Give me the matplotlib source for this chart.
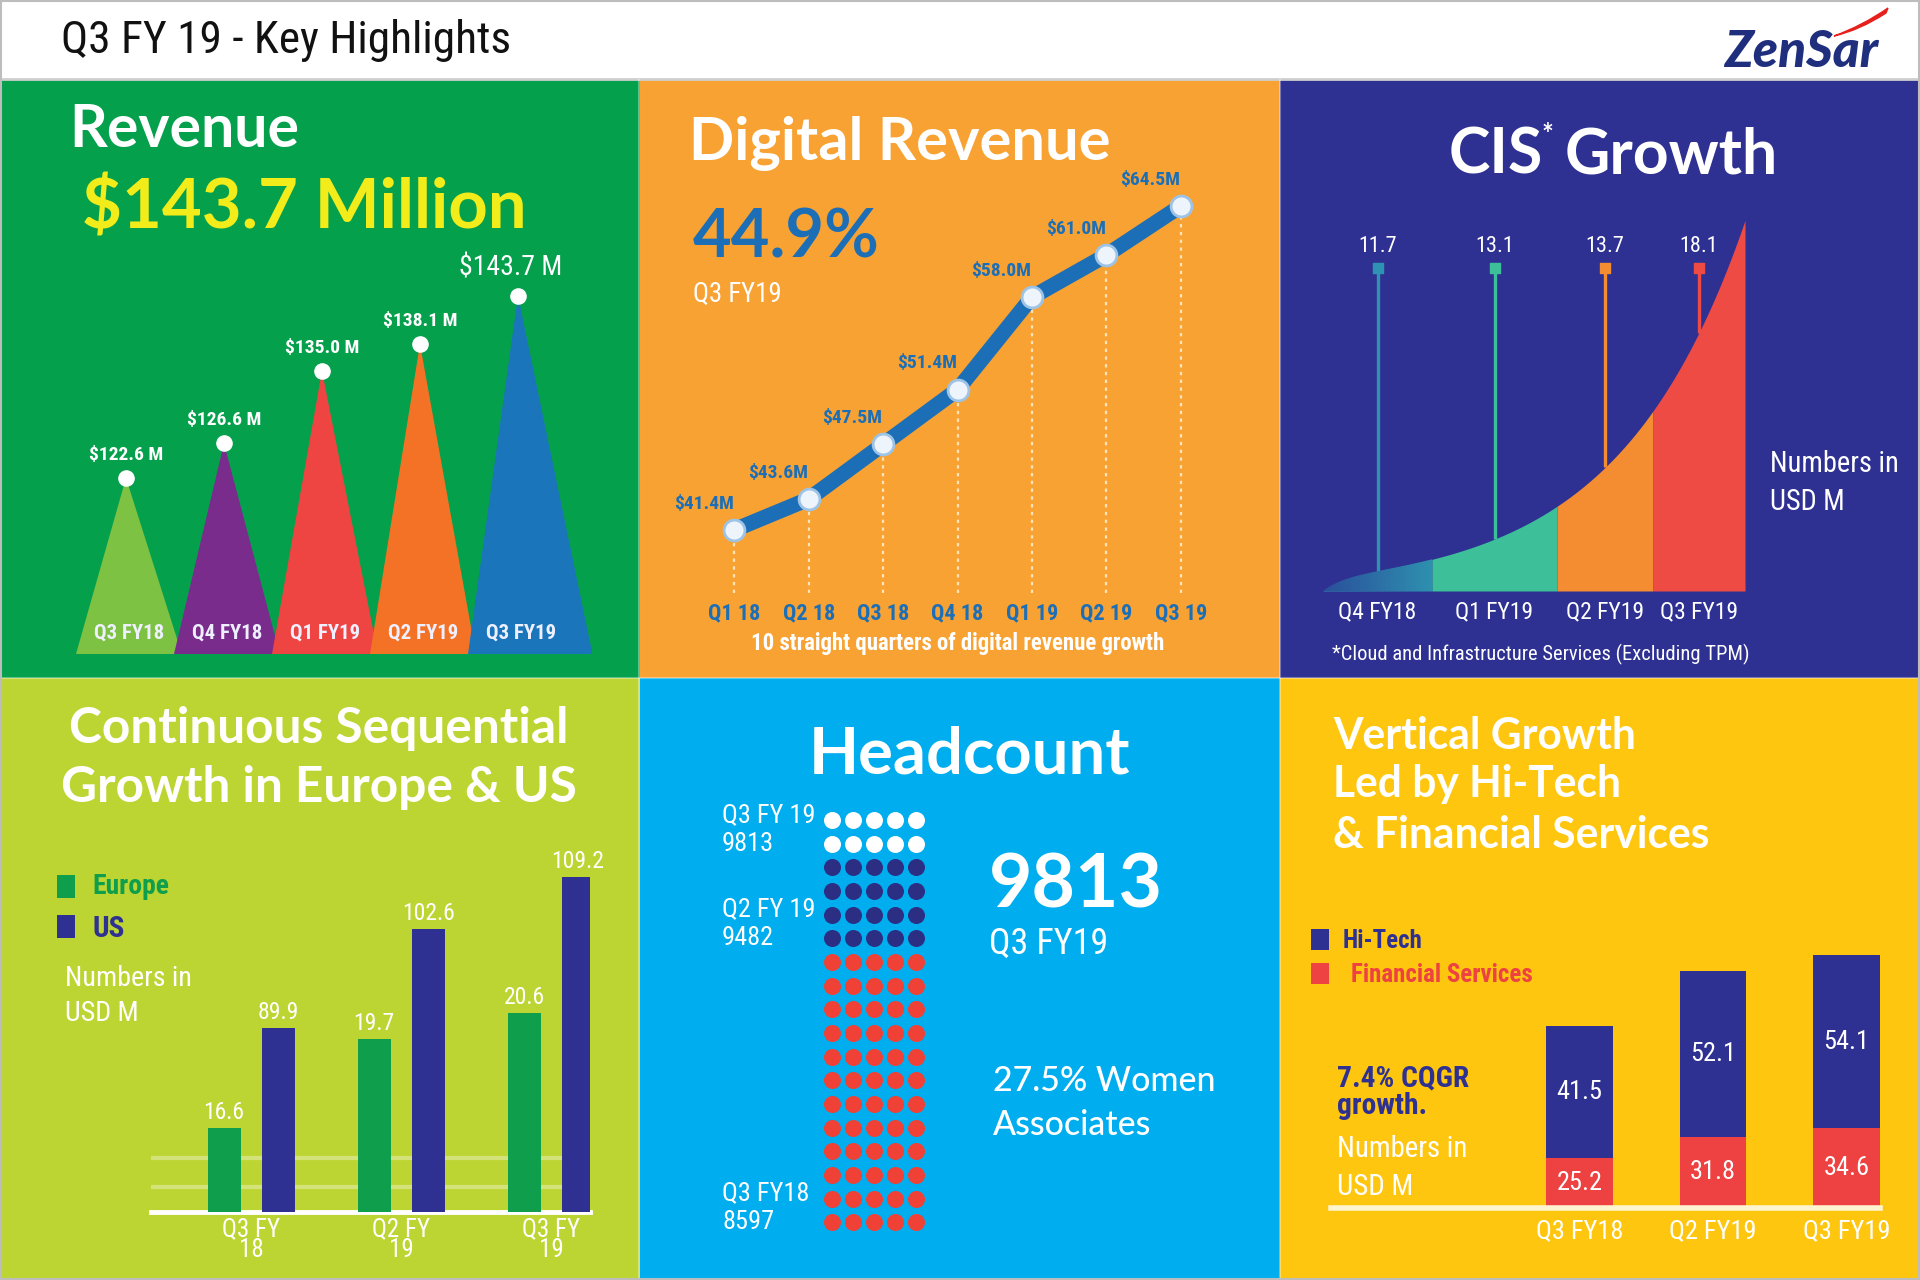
import numpy as np
import matplotlib
matplotlib.use("Agg")
import matplotlib.pyplot as plt
from matplotlib import font_manager as fm
from matplotlib.patches import Rectangle, Polygon, PathPatch
from matplotlib.path import Path
from matplotlib.colors import LinearSegmentedColormap

# ------------------------------------------------------------------ data
rev_quarters = ["Q3 FY18", "Q4 FY18", "Q1 FY19", "Q2 FY19", "Q3 FY19"]
rev_values = [122.6, 126.6, 135.0, 138.1, 143.7]

dig_quarters = ["Q1 18", "Q2 18", "Q3 18", "Q4 18", "Q1 19", "Q2 19", "Q3 19"]
dig_values = [41.4, 43.6, 47.5, 51.4, 58.0, 61.0, 64.5]

cis_quarters = ["Q4 FY18", "Q1 FY19", "Q2 FY19", "Q3 FY19"]
cis_values = [11.7, 13.1, 13.7, 18.1]

geo_quarters = ["Q3 FY\n18", "Q2 FY\n19", "Q3 FY\n19"]
europe_values = [16.6, 19.7, 20.6]
us_values = [89.9, 102.6, 109.2]

hc_labels = ["Q3 FY18", "Q2 FY 19", "Q3 FY 19"]
hc_values = [8597, 9482, 9813]
hc_dot_rows = [12, 4, 2]          # rows of dots (5 per row) for each step

vert_quarters = ["Q3 FY18", "Q2 FY19", "Q3 FY19"]
fin_values = [25.2, 31.8, 34.6]
hitech_values = [41.5, 52.1, 54.1]

# ------------------------------------------------------------------ style
GREEN_BG = "#05A04C"
ORANGE_BG = "#F8A233"
NAVY_BG = "#2E3192"
LIME_BG = "#BDD532"
SKY_BG = "#00ADEE"
YELLOW_BG = "#FEC60F"
NAVY = "#2E3192"
RED = "#EE4142"
DBLUE = "#1C6FB7"
YELLOW = "#F3EC1B"
rev_colors = ["#7DC243", "#7A2C8D", "#EE4543", "#F47225", "#1B75BB"]
cis_colors = ["#2E90AF", "#3DBF99", "#F48C32", "#EE4B45"]
cis_stem_colors = ["#2E93B2", "#3DBF99", "#F48C32", "#EE4B45"]
cis_bounds = [0, 109, 234, 330, 422]   # horizontal extent of each CIS band
hc_colors = ["#EF4136", "#2B2E83", "#FFFFFF"]

_fonts = fm.fontManager.ttflist
_names = {f.name for f in _fonts}
TF = "Lato" if "Lato" in _names else "DejaVu Sans"
CF, CST = None, "normal"
for cand in ["Roboto Condensed", "Open Sans Condensed", "Liberation Sans Narrow",
             "DejaVu Sans Condensed", "Noto Sans Condensed", "Arial Narrow"]:
    if cand in _names:
        CF = cand
        break
if CF is None:
    if any(f.name == "DejaVu Sans" and str(f.stretch) in ("condensed", "semi-condensed") for f in _fonts):
        CF, CST = "DejaVu Sans", "condensed"
    elif any(f.name == "Noto Sans" and str(f.stretch) == "condensed" for f in _fonts):
        CF, CST = "Noto Sans", "condensed"
    else:
        CF = TF
TFONT = dict(family=TF)
CFONT = dict(family=CF, fontstretch=CST)

W, H = 1920, 1280
fig = plt.figure(figsize=(W / 100, H / 100), dpi=100)
bg = fig.add_axes([0, 0, 1, 1])
bg.set_xlim(0, W)
bg.set_ylim(H, 0)
bg.axis("off")
renderer = fig.canvas.get_renderer()


def txt(x, y, s, cap, width=None, color="white", font=None, weight="normal",
        ha="left", va="baseline", **kw):
    f = font or TFONT
    t = bg.text(x, y, s, fontsize=cap, color=color, ha=ha, va=va,
                fontweight=weight, **f, **kw)
    if width:
        w0 = t.get_window_extent(renderer).width
        size_w = cap * width / w0
        t.set_fontsize(min(0.5 * (size_w + cap), 1.08 * size_w))
    return t


def panel_axes(x0, y0, x1, y1):
    ax = fig.add_axes([x0 / W, 1 - y1 / H, (x1 - x0) / W, (y1 - y0) / H])
    ax.set_facecolor("none")
    for s in ax.spines.values():
        s.set_visible(False)
    ax.set_xticks([])
    ax.set_yticks([])
    return ax


# ------------------------------------------------------------------ panels
for (x0, y0, x1, y1, c) in [(0, 0, 1920, 80, "white"),
                            (0, 80, 640, 678, GREEN_BG),
                            (640, 80, 1280, 678, ORANGE_BG),
                            (1280, 80, 1920, 678, NAVY_BG),
                            (0, 678, 640, 1280, LIME_BG),
                            (640, 678, 1280, 1280, SKY_BG),
                            (1280, 678, 1920, 1280, YELLOW_BG)]:
    bg.add_patch(Rectangle((x0, y0), x1 - x0, y1 - y0, color=c, lw=0, zorder=0))
bg.plot([0, 1920], [79, 79], color="#CFCFCF", lw=2, zorder=1)
bg.plot([0, 1920], [678, 678], color="white", alpha=0.35, lw=1.5, zorder=1)
bg.plot([639, 639], [80, 1280], color="white", alpha=0.35, lw=1.5, zorder=1)
bg.plot([1280, 1280], [80, 1280], color="white", alpha=0.35, lw=1.5, zorder=1)
bg.add_patch(Rectangle((1, 1), 1918, 1278, fill=False, ec="#BDBDBD", lw=1.5, zorder=5))

# header
txt(61, 53, "Q3 FY 19 - Key Highlights", 40, 417, color="#111111", font=CFONT)
txt(1724, 67, "ZenSar", 38, 150, color="#1F2F7E", weight="black", style="italic")
sw = Path([(1834, 36), (1862, 26), (1888, 8), (1886, 13), (1860, 30), (1834, 36), (1834, 36)],
          [Path.MOVETO, Path.CURVE3, Path.CURVE3, Path.LINETO, Path.CURVE3, Path.CURVE3,
           Path.CLOSEPOLY])
bg.add_patch(PathPatch(sw, fc="#E8201C", ec="#E8201C", lw=1, zorder=3))

# ------------------------------------------------------------------ revenue
txt(69, 147, "Revenue", 48, 213, weight="bold")
txt(82, 229, "$143.7 Million", 59, 412, color=YELLOW, weight="bold")

ax = panel_axes(52, 180, 592, 654)
rev_floor = 102.2
ax.set_xlim(-0.755, 4.755)
ax.set_ylim(rev_floor, 157.1)
n = len(rev_values)
for i, (v, c) in enumerate(zip(rev_values, rev_colors)):
    left, right = 0.51, (0.76 if i == n - 1 else 0.57)
    ax.add_patch(Polygon([[i - left, rev_floor], [i, v], [i + right, rev_floor]],
                         closed=True, fc=c, ec="none", zorder=2 + i))
ax.scatter(range(n), rev_values, s=120, color="white", zorder=20, clip_on=False)
for i, (q, v) in enumerate(zip(rev_quarters, rev_values)):
    last = i == n - 1
    ax.annotate(f"${v:.1f} M", (i, v), xytext=(-5 if last else 0, 10),
                textcoords="offset points", ha="center", va="bottom", color="white",
                fontsize=20 if last else 14, fontweight="normal" if last else "bold",
                **CFONT, zorder=21)
    ax.annotate(q, (i, rev_floor), xytext=(2, 8), textcoords="offset points",
                ha="center", va="bottom", color="#EEF0FF", fontsize=15,
                fontweight="bold", **CFONT, zorder=21)

# ------------------------------------------------------------------ digital revenue
txt(689, 160, "Digital Revenue", 46, 392, weight="bold")
txt(693, 258, "44.9%", 59, 173, color=DBLUE, weight="bold")
txt(693, 302, "Q3 FY19", 19, 90, font=CFONT)
txt(958, 650, "10 straight quarters of digital revenue growth", 15, 449,
    font=CFONT, weight="bold", ha="center")

ax = panel_axes(697, 170, 1218, 593)
dig_floor = 36.9
ax.set_xlim(-0.5, 6.5)
ax.set_ylim(dig_floor, 67.07)
xd = np.arange(len(dig_values))
ax.vlines(xd, dig_floor, dig_values, colors="#FFE4B8", linestyles=(0, (1.5, 2)), lw=1.6, zorder=1)
ax.plot(xd, dig_values, color=DBLUE, lw=11, solid_joinstyle="round",
        solid_capstyle="round", zorder=2)
ax.plot(xd, dig_values, ls="none", marker="o", ms=15, mfc="#EEF4FB", mec="#9DC3E6",
        mew=2, zorder=3)
for i, (q, v) in enumerate(zip(dig_quarters, dig_values)):
    ax.annotate(f"${v:.1f}M", (i, v), xytext=(-22, 19), textcoords="offset points",
                ha="center", va="center", color=DBLUE, fontsize=14, fontweight="bold", **CFONT)
    ax.annotate(q, (i, dig_floor), xytext=(0, -7), textcoords="offset points",
                ha="center", va="top", color=DBLUE, fontsize=16, fontweight="bold", **CFONT)

# ------------------------------------------------------------------ CIS growth
txt(1449, 174, "CIS", 45, None, weight="bold")
txt(1778, 174, "Growth", 45, None, weight="bold", ha="right")
txt(1542, 143, "*", 20, None, weight="bold")
t = txt(1770, 472, "Numbers in", 22, 120, font=CFONT)
txt(1770, 510, "USD M", t.get_fontsize(), None, font=CFONT)
txt(1541, 660, "*Cloud and Infrastructure Services (Excluding TPM)", 15, 412,
    font=CFONT, ha="center")

ax = panel_axes(1323, 191, 1745, 591)
ax.set_xlim(cis_bounds[0], cis_bounds[-1])
ax.set_ylim(0, 400)


def cis_curve(p):
    return 13.5 * np.exp(0.00785 * p) - 13.5 * np.exp(-0.05 * p)


stem_top = 323
cis_x = [(a + b) / 2 for a, b in zip(cis_bounds[:-1], cis_bounds[1:])]
for i, (q, v) in enumerate(zip(cis_quarters, cis_values)):
    pp = np.linspace(cis_bounds[i], cis_bounds[i + 1], 120)
    band = ax.fill_between(pp, 0, cis_curve(pp), color=cis_colors[i], lw=0, zorder=2)
    if i == 0:
        grad = np.linspace(0, 1, 64).reshape(1, -1)
        cmap = LinearSegmentedColormap.from_list("cisgrad", ["#2A4F9C", cis_colors[0]])
        im = ax.imshow(grad, cmap=cmap, extent=[cis_bounds[0], cis_bounds[1], 0, 60],
                       aspect="auto", zorder=2.5)
        im.set_clip_path(band.get_paths()[0], transform=ax.transData)
    xi = cis_x[i]
    ax.vlines(xi, cis_curve(xi), stem_top, color=cis_stem_colors[i], lw=2.4, zorder=1)
    ax.scatter([xi], [stem_top], s=60, marker="s", color=cis_stem_colors[i], zorder=3,
               clip_on=False)
    ax.annotate(f"{v:.1f}", (xi, stem_top), xytext=(0, 8), textcoords="offset points",
                ha="center", va="bottom", color="white", fontsize=16, **CFONT)
    ax.annotate(q, (xi, 0), xytext=(0, -7), textcoords="offset points",
                ha="center", va="top", color="white", fontsize=17, **CFONT)
ax.set_xlim(cis_bounds[0], cis_bounds[-1])
ax.set_ylim(0, 400)

# ------------------------------------------------------------------ Europe & US
t = txt(319, 743, "Continuous Sequential", 40, 463, weight="bold", ha="center")
txt(319, 802, "Growth in Europe & US", t.get_fontsize(), None, weight="bold", ha="center")
bg.add_patch(Rectangle((57, 875), 18, 23, color="#0F9F4C", lw=0))
bg.add_patch(Rectangle((57, 915), 18, 23, color=NAVY, lw=0))
txt(92, 894, "Europe", 21, 73, color="#0F9F4C", font=CFONT, weight="bold")
txt(92, 937, "US", 21, None, color=NAVY, font=CFONT, weight="bold")
t = txt(65, 986, "Numbers in", 21, 121, font=CFONT)
txt(65, 1021, "USD M", t.get_fontsize(), None, font=CFONT)

ax_e = panel_axes(151, 850, 590, 1212)
ax_u = panel_axes(151, 850, 590, 1212)
for a in (ax_e, ax_u):
    a.set_xlim(-0.667, 2.26)
ax_e.set_ylim(13.68, 26.27)
ax_u.set_ylim(66.37, 112.66)
ax_e.set_yticks([14.55, 15.56])
ax_e.tick_params(left=False, labelleft=False)
ax_e.yaxis.grid(True, color="white", alpha=0.35, lw=3)
ax_e.set_axisbelow(True)
ax_e.spines["bottom"].set_visible(True)
ax_e.spines["bottom"].set_color("white")
ax_e.spines["bottom"].set_linewidth(3.5)
xg = np.arange(len(europe_values))
ax_e.bar(xg - 0.18, europe_values, width=0.22, color="#0F9F4C", zorder=3)
ax_u.bar(xg + 0.18, us_values, width=0.22, color=NAVY, zorder=3)
for i in range(len(xg)):
    ax_e.annotate(f"{europe_values[i]:.1f}", (i - 0.18, europe_values[i]), xytext=(0, 3),
                  textcoords="offset points", ha="center", va="bottom", color="white",
                  fontsize=17, **CFONT)
    ax_u.annotate(f"{us_values[i]:.1f}", (i + 0.18, us_values[i]), xytext=(0, 3),
                  textcoords="offset points", ha="center", va="bottom", color="white",
                  fontsize=17, **CFONT)
    ax_e.annotate(geo_quarters[i], (i, 13.68), xytext=(0, -4), textcoords="offset points",
                  ha="center", va="top", color="white", fontsize=18, linespacing=0.8, **CFONT)

# ------------------------------------------------------------------ headcount
txt(970, 774, "Headcount", 50, 301, weight="bold", ha="center")
txt(989, 908, f"{hc_values[-1]}", 62, 161, weight="bold")
txt(989, 954, "Q3 FY19", 27, 114, font=CFONT)
t = txt(993, 1091, "27.5% Women", 26, 208, weight="medium")
txt(993, 1135, "Associates", t.get_fontsize(), None, weight="medium")

ax = panel_axes(821.5, 808, 926.5, 1234)
ax.set_xlim(-0.5, 4.5)
ax.set_ylim(-0.5, 17.5)
start = 0
for k, (nr, c) in enumerate(zip(hc_dot_rows, hc_colors)):
    cols, rows = np.meshgrid(np.arange(5), np.arange(start, start + nr))
    ax.scatter(cols.ravel(), rows.ravel(), s=150, color=c, lw=0, zorder=2)
    ax.annotate(f"{hc_labels[k]}\n{hc_values[k]}", xy=(0, start + 0.6),
                xycoords=("axes fraction", "data"), xytext=(-71.6, 0),
                textcoords="offset points", ha="left", va="center", color="white",
                fontsize=19, linespacing=1.25, **CFONT)
    start += nr

# ------------------------------------------------------------------ vertical growth
t = txt(1333, 848, "& Financial Services", 33, 349, weight="bold")
vs = t.get_fontsize()
txt(1333, 749, "Vertical Growth", vs, None, weight="bold")
txt(1333, 797, "Led by Hi-Tech", vs, None, weight="bold")
bg.add_patch(Rectangle((1311, 929), 18, 21, color=NAVY, lw=0))
bg.add_patch(Rectangle((1311, 963), 18, 21, color=RED, lw=0))
txt(1343, 948, "Hi-Tech", 21, 74, color=NAVY, font=CFONT, weight="bold")
txt(1351, 982, "Financial Services", 21, 168, color=RED, font=CFONT, weight="bold")
t = txt(1337, 1086, "7.4% CQGR", 22, 127, color=NAVY, font=CFONT, weight="bold")
txt(1337, 1114, "growth.", t.get_fontsize(), None, color=NAVY, font=CFONT, weight="bold")
t = txt(1337, 1157, "Numbers in", 22, 123, font=CFONT)
txt(1337, 1195, "USD M", t.get_fontsize(), None, font=CFONT)

ax = panel_axes(1331, 800, 1880, 1208)
v_floor = 9.5
ax.set_xlim(-1.86, 2.25)
ax.set_ylim(v_floor, 137.4)
ax.spines["bottom"].set_visible(True)
ax.spines["bottom"].set_color("#FFF4D0")
ax.spines["bottom"].set_linewidth(4)
xv = np.arange(len(fin_values))
ax.bar(xv, fin_values, width=0.5, color=RED, zorder=2)
ax.bar(xv, hitech_values, width=0.5, bottom=fin_values, color=NAVY, zorder=2)
for i in range(len(xv)):
    ax.text(i, (v_floor + fin_values[i]) / 2, f"{fin_values[i]:.1f}", ha="center",
            va="center", color="white", fontsize=19, **CFONT, zorder=3)
    ax.text(i, fin_values[i] + hitech_values[i] / 2, f"{hitech_values[i]:.1f}", ha="center",
            va="center", color="white", fontsize=19, **CFONT, zorder=3)
    ax.annotate(vert_quarters[i], (i, v_floor), xytext=(0, -8), textcoords="offset points",
                ha="center", va="top", color="white", fontsize=19, **CFONT)

fig.savefig("out.png", dpi=100)
